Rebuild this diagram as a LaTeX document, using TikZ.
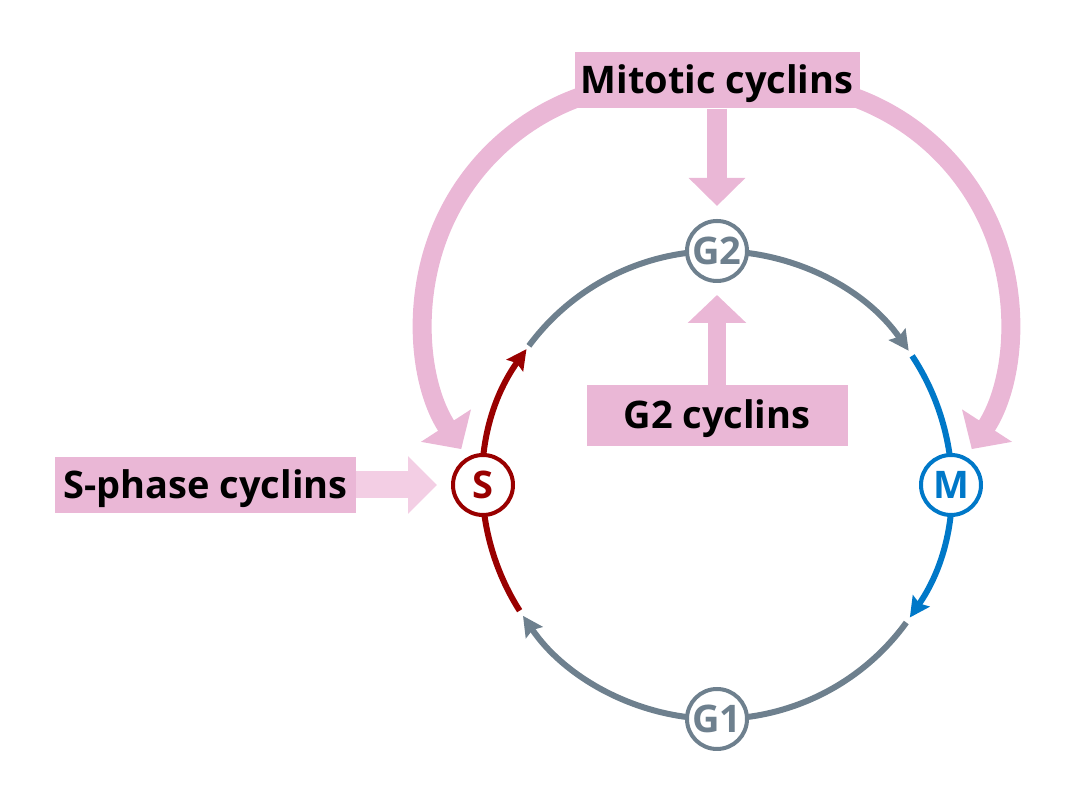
\documentclass[tikz,border=0pt]{standalone}
\usepackage{fontspec}
\setmainfont{Open Sans}
\usepackage{xcolor}
\definecolor{cyclinpink}{HTML}{EAB7D6}
\definecolor{cyclinlight}{HTML}{F3CEE4}
\definecolor{phasegray}{HTML}{6E808E}
\definecolor{phasered}{HTML}{990000}
\definecolor{phaseblue}{HTML}{0078C8}
\usetikzlibrary{arrows.meta,positioning}

\begin{document}
\begin{tikzpicture}[x=1pt, y=1pt,
      cyclin/.style={fill=cyclinpink, inner sep=0pt, minimum height=56pt, text height=27pt, text depth=0pt, font=\fontsize{38}{38}\selectfont\bfseries},
      phase/.style={circle, draw=#1, line width=4pt, fill=white, minimum size=60pt, inner sep=0pt, text=#1, font=\fontsize{38}{38}\selectfont\bfseries},
      track/.style={draw=#1, line width=6pt, -{Stealth[length=20pt,width=20pt,inset=3pt]}},
      bigarc/.style={draw=cyclinpink, line width=19pt, -{Triangle[length=28pt,width=58pt]}}
    ]
    \useasboundingbox (0,0) rectangle (1080,810);
    \coordinate (cen) at (717,325);
    \coordinate (lc) at (660,490);
    \coordinate (rc) at (773,490);

    \draw[bigarc] ([shift={(100:237)}]lc) arc[start angle=100, end angle=213, radius=237];
    \draw[bigarc] ([shift={(80:237)}]rc) arc[start angle=80, end angle=-33, radius=237];
    \node[cyclin, minimum width=285pt] (mit) at (717,729.5) {Mitotic cyclins};
    \node[cyclin, minimum width=261pt, minimum height=61pt] (g2cyc) at (717,394.5) {G2 cyclins};
    \node[cyclin, minimum width=301pt] (scyc) at (205.5,325) {S-phase cyclins};

    \draw[track=phasegray] ([shift={(90:234)}]cen) arc[start angle=90, end angle=35, radius=234];
    \draw[track=phaseblue] ([shift={(33.5:234)}]cen) arc[start angle=33.5, end angle=-34.5, radius=234];
    \draw[track=phasegray] ([shift={(-36:234)}]cen) arc[start angle=-36, end angle=-146, radius=234];
    \draw[track=phasered] ([shift={(-147.5:234)}]cen) arc[start angle=-147.5, end angle=-215.5, radius=234];
    \draw[draw=phasegray, line width=6pt] ([shift={(143.5:234)}]cen) arc[start angle=143.5, end angle=90, radius=234];

    \node[phase=phasegray] (g2) at (717,559) {G2};
    \node[phase=phasegray] (g1) at (717,91) {G1};
    \node[phase=phasered] (s) at (483,325) {S};
    \node[phase=phaseblue] (m) at (951,325) {M};

    \draw[cyclinpink, line width=20pt, -{Triangle[length=28pt,width=55pt]}] (mit.south) -- ([yshift=13pt]g2.north);
    \draw[cyclinpink, line width=18pt, -{Triangle[length=28pt,width=57pt]}] (g2cyc.north) -- ([yshift=-12pt]g2.south);
    \draw[cyclinlight, line width=27pt, -{Triangle[length=29pt,width=56pt]}] (scyc.east) -- ([xshift=-14pt]s.west);
  \end{tikzpicture}
\end{document}
